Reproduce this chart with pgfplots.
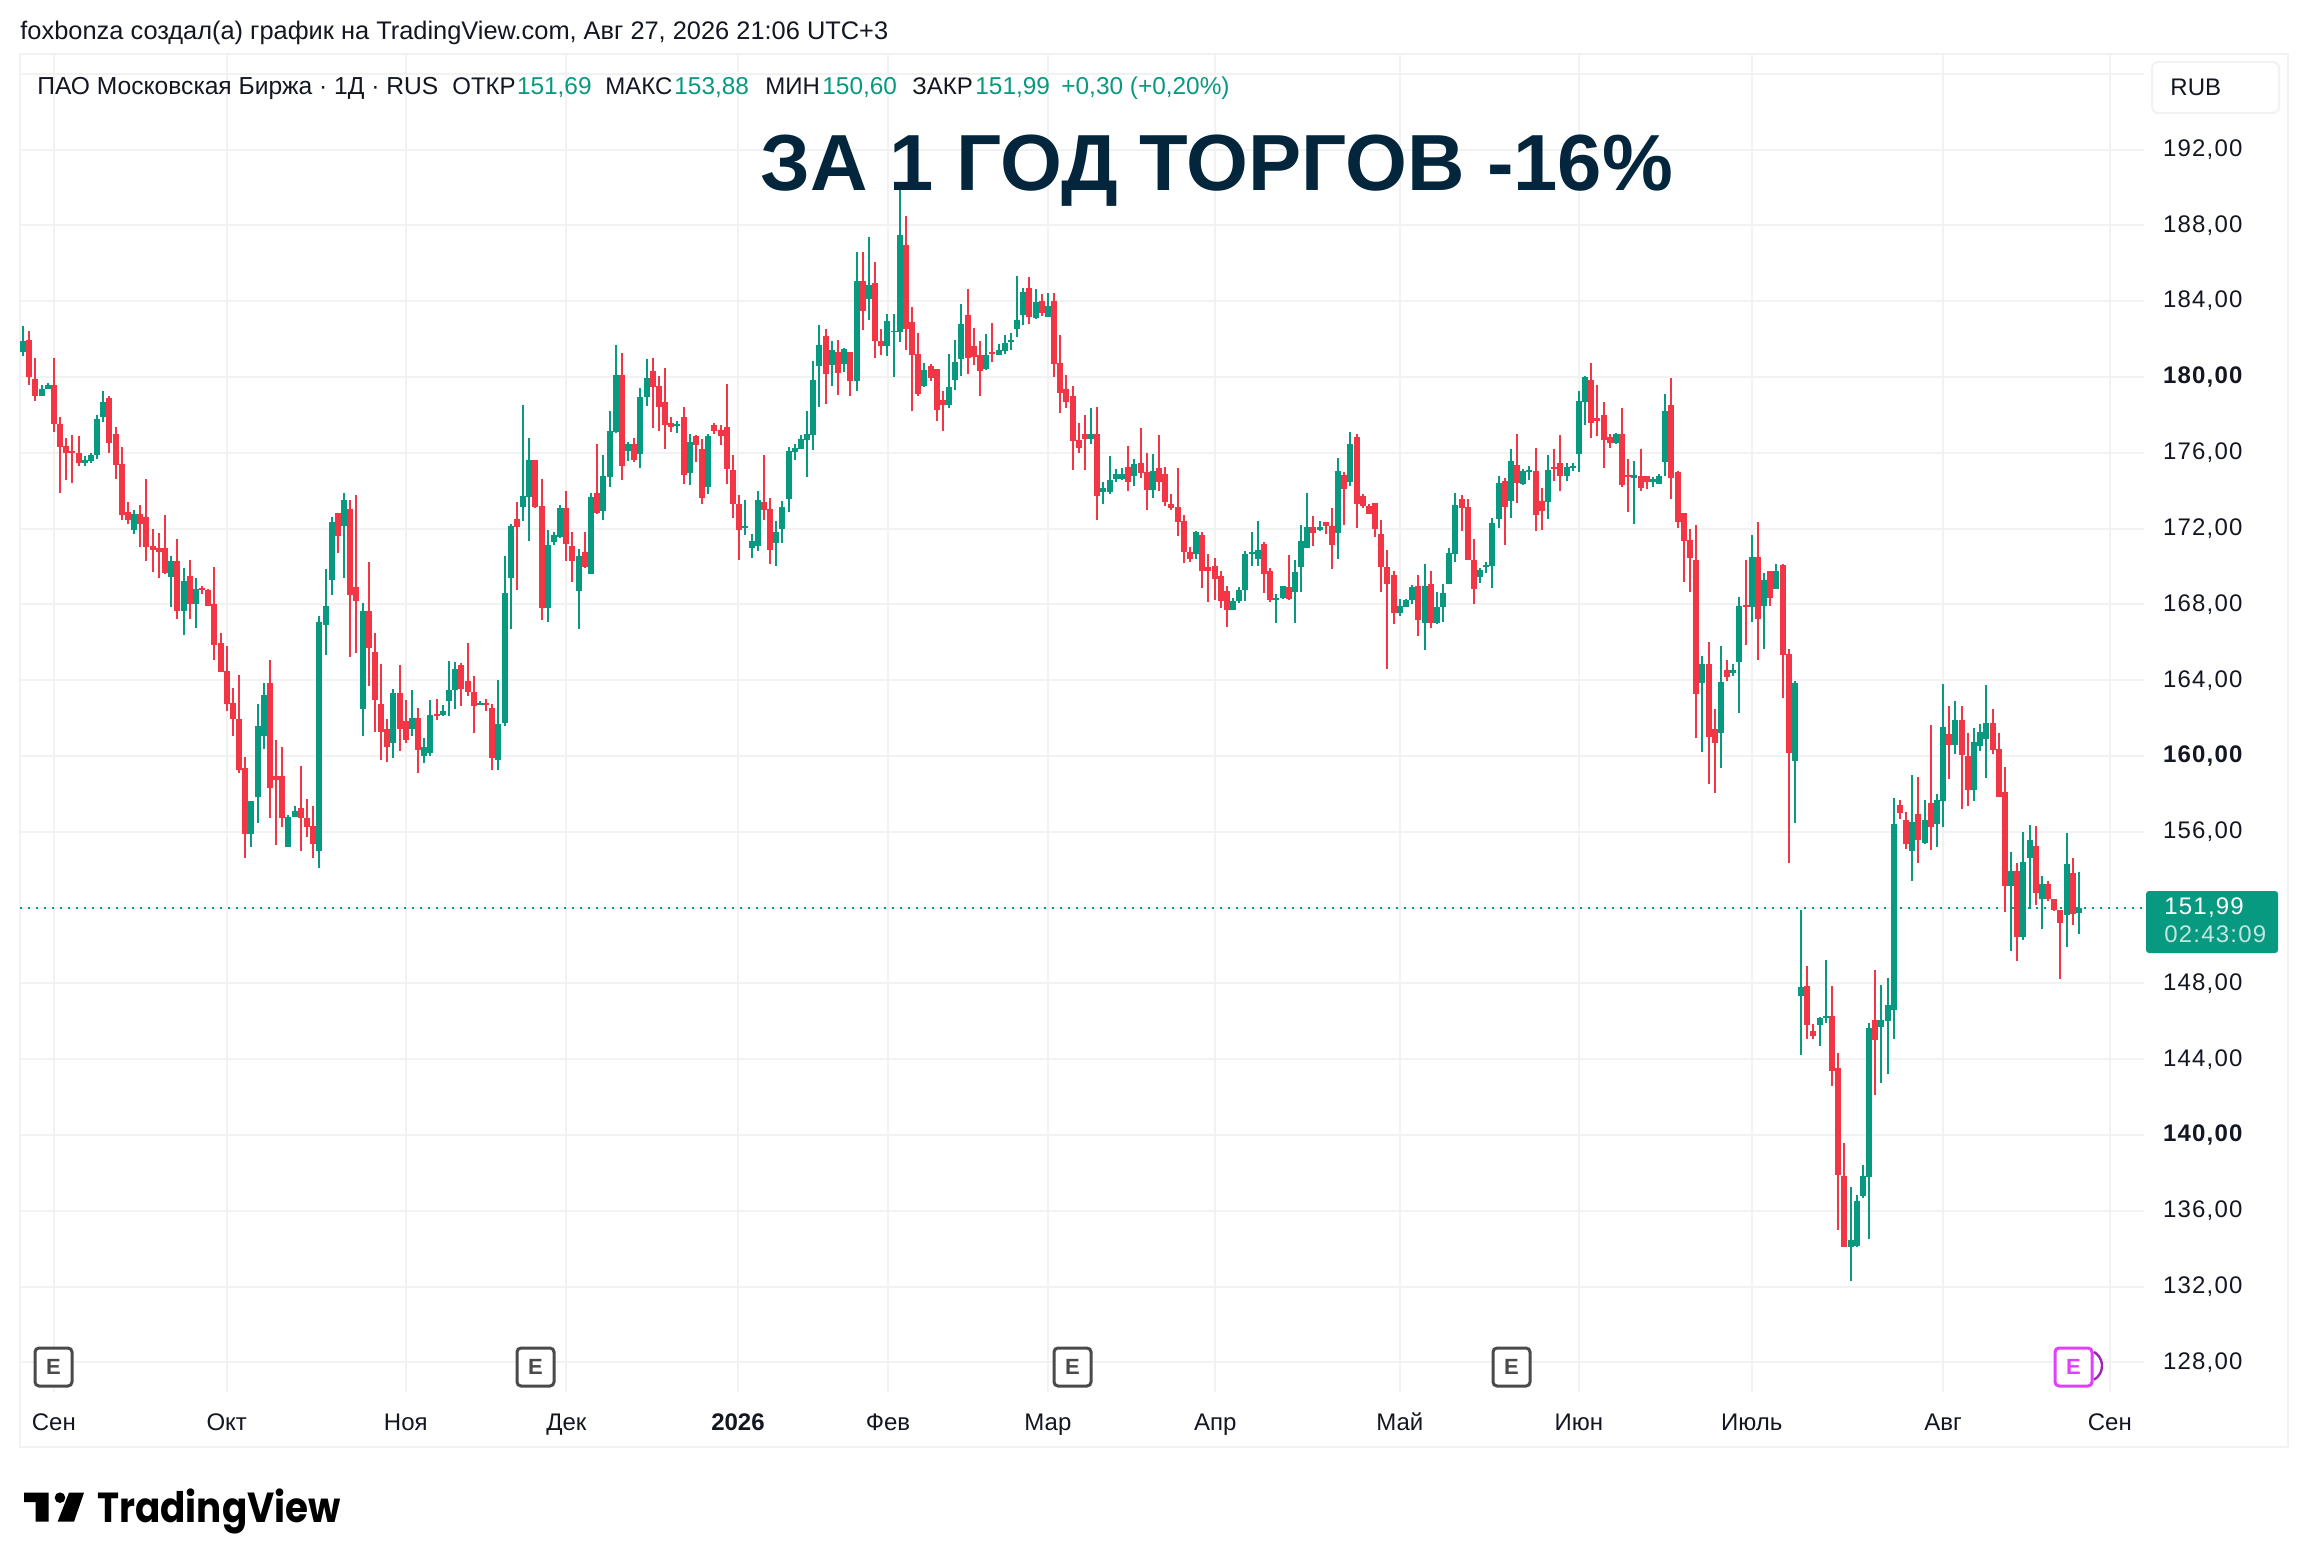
\documentclass[border=0pt]{standalone}
\usepackage{fontspec}
\usepackage{pgfplots}
\usepackage{pgfplotstable}
\pgfplotsset{compat=1.18}
\setmainfont{Liberation Sans}
\newfontfamily\poppins{Poppins}
\newfontfamily\tvwide[LetterSpace=5]{Liberation Sans}
\definecolor{tvup}{HTML}{089981}
\definecolor{tvdown}{HTML}{F23645}
\definecolor{tvgrid}{HTML}{F2F2F2}
\definecolor{tvtext}{HTML}{131722}
\definecolor{tvtitle}{HTML}{04263C}
\definecolor{tvE}{HTML}{4A4A4A}
\definecolor{tvpink}{HTML}{E040FB}
\definecolor{tvpurple}{HTML}{9C27B0}
\pgfplotstableread{
i o h l c
0 181.33 182.69 181.13 181.89
1 181.95 182.40 179.55 180.02
2 179.88 181.00 178.75 178.97
3 178.99 179.57 178.99 179.36
4 179.34 179.69 179.34 179.57
5 179.57 181.00 177.11 177.54
6 177.54 177.91 173.86 176.28
7 176.35 176.78 174.58 176.00
8 176.10 176.94 174.42 176.00
9 175.98 176.88 175.32 175.44
10 175.44 175.83 175.32 175.61
11 175.59 175.98 175.48 175.89
12 175.90 177.99 175.67 177.78
13 177.89 179.26 177.64 178.68
14 178.89 178.99 176.00 176.49
15 177.00 177.37 174.62 175.38
16 175.42 176.31 172.43 172.74
17 172.88 173.41 172.22 172.43
18 171.94 172.98 171.73 172.76
19 172.76 173.25 171.05 172.26
20 172.61 174.62 170.29 171.05
21 171.09 171.98 169.72 170.89
22 170.99 171.77 169.37 170.77
23 170.99 172.72 169.58 169.66
24 169.47 170.56 167.87 170.29
25 170.29 171.46 167.24 167.63
26 167.63 169.92 166.36 169.23
27 169.51 170.34 167.24 168.02
28 168.02 169.39 166.74 168.82
29 168.88 168.98 168.57 168.78
30 168.76 168.82 167.89 167.89
31 168.02 169.97 165.04 165.88
32 165.97 166.50 164.45 164.45
33 164.49 165.82 162.40 162.77
34 162.81 163.59 161.08 161.94
35 161.96 164.28 159.09 159.26
36 159.38 159.97 154.64 155.87
37 155.87 157.64 155.19 157.64
38 157.86 162.76 156.49 161.58
39 161.04 163.87 160.39 163.22
40 163.87 165.08 156.71 158.29
41 158.95 160.84 155.28 158.74
42 158.95 160.49 156.24 156.71
43 155.19 156.90 155.19 156.78
44 156.78 157.37 156.78 157.12
45 157.27 159.48 155.01 156.71
46 156.75 157.74 155.75 156.28
47 156.32 157.37 154.60 155.34
48 154.97 167.40 154.11 167.07
49 166.93 169.88 165.31 167.93
50 169.31 172.61 168.51 172.35
51 172.82 172.82 170.73 171.63
52 172.16 173.88 169.41 173.51
53 173.04 173.51 165.25 168.51
54 168.92 173.78 165.41 168.16
55 162.50 168.08 161.04 167.65
56 167.65 170.25 163.67 165.72
57 165.49 166.50 161.29 162.93
58 162.76 164.86 159.77 161.29
59 161.43 161.96 159.71 160.45
60 160.67 163.54 159.87 163.34
61 163.34 164.80 160.24 161.41
62 161.86 162.97 160.71 160.86
63 161.41 163.50 161.08 162.01
64 162.01 162.54 159.09 160.30
65 160.02 160.96 159.61 160.49
66 160.18 162.97 160.02 162.17
67 162.23 163.01 161.88 162.11
68 162.17 162.70 162.09 162.38
69 162.91 165.02 162.09 163.50
70 163.46 164.96 162.46 164.59
71 164.80 164.92 162.66 163.52
72 163.96 165.97 163.15 163.36
73 163.38 164.24 161.23 162.66
74 162.70 162.91 162.70 162.81
75 162.81 163.01 162.40 162.72
76 162.54 162.76 159.24 159.91
77 159.77 164.02 159.24 161.70
78 161.76 170.56 161.60 168.61
79 169.41 172.24 166.68 172.14
80 172.51 173.41 168.78 172.06
81 173.13 178.52 172.41 173.72
82 173.68 176.78 171.32 175.61
83 175.61 175.61 173.11 173.13
84 173.19 174.62 167.20 167.83
85 167.83 171.92 167.09 171.14
86 171.30 171.83 171.16 171.67
87 171.57 173.25 171.48 173.10
88 173.10 173.99 170.31 171.16
89 171.09 171.83 169.19 170.27
90 168.73 170.93 166.68 170.56
91 170.77 171.83 169.90 169.97
92 169.62 173.88 169.62 173.66
93 173.88 176.47 172.78 172.84
94 172.94 175.89 172.47 174.77
95 174.73 178.21 174.17 177.15
96 177.11 181.68 177.02 180.10
97 180.10 181.27 174.54 175.32
98 176.12 176.57 175.59 176.47
99 176.47 176.78 175.53 175.63
100 175.96 179.42 175.22 178.95
101 178.95 180.94 178.48 179.94
102 180.31 181.00 177.33 179.49
103 179.51 180.04 177.16 178.42
104 178.67 180.46 176.22 177.46
105 177.57 177.88 177.11 177.36
106 177.43 177.67 177.06 177.52
107 177.88 178.41 174.33 174.80
108 174.91 176.99 174.28 176.57
109 176.89 176.94 175.49 176.43
110 176.20 176.73 173.28 173.59
111 174.17 176.99 173.80 176.89
112 177.46 177.57 176.99 177.17
113 177.20 177.46 176.43 176.90
114 177.36 179.62 174.33 175.12
115 175.10 175.89 172.54 173.28
116 173.31 173.79 170.34 171.91
117 172.02 173.52 171.65 172.11
118 170.97 171.69 170.44 171.37
119 171.07 174.00 170.81 173.52
120 173.42 175.89 172.44 172.96
121 173.05 173.63 170.13 170.86
122 171.23 172.42 170.02 171.84
123 171.97 173.47 171.23 173.16
124 173.54 176.31 172.86 176.10
125 176.05 176.47 175.64 176.26
126 176.22 176.94 176.22 176.73
127 176.69 178.20 174.70 176.99
128 176.96 180.83 176.17 179.83
129 180.58 182.72 178.43 181.67
130 182.14 182.51 178.58 180.16
131 180.63 181.88 179.53 181.40
132 181.30 181.93 179.06 180.21
133 180.67 181.51 180.27 181.46
134 181.30 181.30 179.00 179.79
135 179.78 186.59 179.25 185.06
136 185.06 186.59 182.48 183.49
137 184.10 187.38 183.01 184.85
138 184.95 186.06 181.00 181.90
139 181.88 182.52 181.16 181.64
140 181.64 183.31 181.09 182.94
141 182.38 183.31 179.99 182.45
142 182.38 189.98 181.85 187.49
143 186.96 188.50 181.42 182.53
144 182.89 183.68 178.20 181.16
145 181.19 182.31 178.99 179.10
146 179.52 180.72 179.47 180.35
147 180.56 180.67 179.78 179.94
148 180.40 180.40 177.67 178.25
149 178.76 179.24 177.14 178.51
150 178.51 181.19 178.35 179.45
151 179.84 181.93 179.31 180.77
152 180.95 183.84 180.05 182.78
153 183.26 184.63 180.15 181.00
154 181.62 182.57 180.61 181.05
155 181.14 181.88 178.99 180.31
156 180.40 182.25 180.37 181.14
157 181.30 182.83 180.79 181.19
158 181.16 181.72 181.16 181.41
159 181.35 182.20 181.21 181.78
160 181.83 182.31 181.42 181.93
161 182.53 185.32 182.11 182.99
162 183.28 184.69 182.75 184.47
163 184.69 185.27 182.80 183.17
164 183.12 184.63 183.06 183.95
165 184.00 184.37 183.22 183.38
166 183.17 184.42 183.17 183.73
167 184.00 184.42 179.99 180.68
168 180.72 182.20 178.09 179.15
169 179.35 180.09 178.37 178.68
170 178.98 179.51 175.11 176.63
171 176.67 177.56 176.00 176.26
172 176.98 177.98 175.11 176.72
173 176.72 178.35 176.47 176.98
174 176.98 178.40 172.47 173.74
175 173.95 174.46 173.32 174.14
176 173.95 175.82 173.84 174.56
177 174.61 175.14 174.47 174.88
178 174.61 175.19 174.58 174.88
179 175.25 176.35 174.00 174.47
180 174.79 175.67 174.26 175.40
181 175.46 177.30 174.68 174.95
182 174.98 175.98 173.00 174.05
183 174.05 175.93 173.63 175.03
184 175.19 176.93 174.00 174.47
185 174.88 175.25 173.21 173.42
186 173.30 173.82 173.00 173.09
187 173.14 175.19 171.63 172.32
188 172.40 172.72 170.16 170.74
189 170.77 171.03 170.26 170.42
190 170.68 171.88 170.42 171.82
191 171.67 171.82 168.84 169.74
192 169.95 170.67 168.10 169.74
193 170.03 170.46 168.21 169.32
194 169.51 169.77 167.79 168.16
195 168.72 168.98 166.79 167.68
196 167.68 168.35 167.68 168.19
197 168.16 168.93 168.05 168.77
198 168.74 170.82 168.16 170.67
199 170.68 171.82 170.00 170.77
200 170.37 172.40 170.00 170.88
201 171.19 171.30 168.58 169.58
202 169.77 169.93 168.10 168.21
203 168.26 168.56 167.00 168.35
204 168.31 168.98 168.26 168.98
205 168.93 170.61 168.21 168.26
206 168.68 170.35 167.00 169.72
207 169.95 172.19 168.63 171.35
208 170.95 173.88 170.95 172.09
209 172.09 172.67 171.10 171.79
210 171.95 172.40 171.89 172.09
211 172.35 172.35 171.74 172.16
212 172.14 173.09 169.89 171.16
213 171.79 175.72 170.37 175.03
214 174.82 174.98 172.21 174.10
215 174.47 177.09 174.26 176.46
216 176.82 176.98 172.05 173.32
217 173.72 173.82 173.10 173.21
218 173.19 173.29 172.79 172.79
219 173.35 173.35 171.53 172.00
220 171.72 172.46 168.68 169.95
221 169.98 170.88 164.58 169.05
222 169.56 169.77 166.95 167.53
223 167.56 168.30 167.37 167.93
224 167.88 168.30 167.88 168.25
225 168.25 169.04 168.04 168.93
226 168.98 169.56 166.35 167.16
227 167.04 170.14 165.58 168.98
228 169.09 169.77 166.77 167.04
229 167.04 168.67 166.98 167.88
230 167.84 169.09 167.09 168.61
231 169.05 170.98 169.05 170.72
232 170.68 173.88 170.26 173.25
233 173.56 173.77 171.89 173.11
234 173.14 173.56 170.32 170.32
235 170.35 171.46 168.00 168.79
236 169.42 169.93 169.11 169.82
237 169.98 170.25 169.68 170.09
238 170.00 172.56 168.84 172.30
239 172.53 174.77 172.05 174.40
240 174.51 174.67 171.16 173.16
241 173.47 176.19 172.58 175.56
242 175.35 176.98 173.37 174.42
243 174.37 175.14 174.32 175.04
244 174.98 175.30 174.58 175.09
245 175.04 176.25 171.89 172.74
246 173.46 174.14 171.95 172.95
247 173.42 175.88 172.53 175.09
248 175.25 176.19 174.53 175.16
249 175.46 176.93 174.00 174.79
250 174.79 175.46 174.53 175.25
251 175.21 175.46 175.05 175.30
252 175.95 179.25 175.00 178.72
253 178.68 180.04 177.47 179.98
254 179.82 180.72 176.79 177.58
255 177.82 179.56 176.89 177.68
256 177.98 178.67 175.21 176.68
257 176.82 176.98 176.26 176.53
258 176.53 177.04 176.47 176.98
259 176.98 178.35 174.21 174.32
260 174.82 175.67 172.89 174.72
261 174.68 175.56 172.26 174.82
262 174.77 176.19 174.00 174.16
263 174.77 174.77 174.11 174.47
264 174.47 174.72 174.21 174.61
265 174.37 174.88 174.37 174.77
266 175.53 179.09 174.79 178.19
267 178.51 179.93 173.58 174.68
268 174.98 175.04 172.05 172.32
269 172.82 172.82 169.16 171.32
270 171.40 171.98 168.63 170.47
271 170.35 172.19 160.95 163.26
272 163.84 165.30 160.21 164.88
273 164.88 166.04 158.53 161.00
274 161.40 162.46 158.05 160.69
275 161.21 165.83 159.37 163.88
276 164.56 165.04 163.95 164.16
277 164.37 164.88 164.21 164.56
278 164.95 168.40 162.26 167.93
279 167.98 170.35 165.84 167.90
280 167.84 171.67 167.05 170.51
281 170.51 172.35 165.05 167.21
282 167.90 169.67 165.63 169.30
283 169.77 169.77 167.90 168.32
284 168.79 170.14 168.79 169.77
285 170.09 170.14 163.05 165.32
286 165.40 165.62 154.37 160.16
287 159.74 163.98 156.47 163.83
288 147.36 151.89 144.21 147.79
289 147.89 148.94 145.05 145.80
290 145.47 145.84 145.05 145.21
291 145.79 146.21 144.68 146.15
292 146.17 149.21 145.89 146.26
293 146.26 147.84 142.59 143.38
294 143.52 144.31 135.01 137.91
295 137.84 139.58 134.07 134.07
296 134.07 137.26 132.28 134.47
297 134.12 136.84 134.07 136.52
298 136.80 138.42 136.70 137.84
299 137.80 145.89 134.54 145.63
300 146.05 148.73 142.12 145.01
301 145.70 147.94 142.75 146.05
302 146.01 148.31 143.22 146.84
303 146.60 157.79 145.07 156.42
304 157.42 157.69 156.69 157.00
305 156.64 157.06 155.11 155.37
306 154.97 159.00 153.39 156.53
307 156.95 158.90 154.34 155.58
308 155.42 157.69 155.34 156.64
309 157.53 161.64 155.02 156.27
310 156.42 158.00 155.18 157.69
311 157.60 163.79 156.28 161.53
312 161.16 162.64 158.81 160.60
313 160.60 162.90 160.13 161.90
314 161.90 162.64 157.18 160.07
315 160.00 161.21 157.34 158.18
316 158.18 161.48 157.65 160.74
317 160.55 161.69 160.28 161.27
318 160.92 163.74 158.86 161.74
319 161.74 162.48 160.13 160.34
320 160.37 161.21 157.81 157.86
321 158.11 159.42 151.76 153.13
322 153.13 154.95 149.71 153.95
323 153.95 154.37 149.18 150.44
324 150.44 156.00 150.28 154.42
325 154.60 156.37 151.92 155.58
326 155.27 156.32 152.13 152.76
327 152.44 153.69 150.86 153.27
328 153.27 153.42 152.34 152.44
329 152.48 152.48 151.81 151.86
330 151.85 151.85 148.23 151.18
331 151.60 155.95 149.92 154.32
332 153.85 154.64 151.07 151.65
333 151.69 153.88 150.60 151.99
}\candles
\newcommand{\Ebox}[3]{%
  \draw[#3,line width=1.5pt,rounded corners=2pt,fill=white] (#1,1348) rectangle (#2,1386);
  \node[text=#3,font=\fontsize{11}{12}\selectfont\bfseries] at ({(#1+#2)/2},1367) {E};}
\begin{document}
\begin{tikzpicture}[x=0.5pt,y=-0.5pt]
\path[use as bounding box,fill=white] (0,0) rectangle (2308,1568);
\draw[tvgrid,line width=1pt] (20,54) rectangle (2288,1447);
\begin{axis}[
  at={(10pt,-696pt)},anchor=south west,
  scale only axis,width=1062pt,height=669pt,
  xmin=-0.486,xmax=343.54,ymin=126.44,ymax=197.04,
  axis line style={draw=none},
  tick style={draw=none},
  grid=major,
  grid style={tvgrid,line width=1pt},
  xtick={5,33,62,88,115.8,140.1,166,193.1,223,252,280,311,338},
  xticklabels={Сен,Окт,Ноя,Дек,\textbf{2026},Фев,Мар,Апр,Май,Июн,Июль,Авг,Сен},
  xticklabel style={font=\fontsize{12}{14}\selectfont,text=tvtext,anchor=base,yshift=-19pt},
  ytick={128,132,...,196},
  yticklabels={128{,}00,132{,}00,136{,}00,\textbf{140{,}00},144{,}00,148{,}00,{},156{,}00,\textbf{160{,}00},164{,}00,168{,}00,172{,}00,176{,}00,\textbf{180{,}00},184{,}00,188{,}00,192{,}00,{}},
  yticklabel pos=right,
  yticklabel style={font=\tvwide\fontsize{12}{14}\selectfont,text=tvtext,anchor=west,xshift=6pt},
  unbounded coords=discard,
  clip=true,
]
\addplot[tvup,line width=.8pt,dash pattern=on 1pt off 3pt] coordinates {(-0.486,151.99) (343.54,151.99)};
\addplot[draw=none,forget plot,error bars/.cd,y dir=both,y explicit,error mark=none,error bar style={line width=1pt,tvdown}]
  table[x=i,y expr={\thisrow{c}<\thisrow{o} ? (\thisrow{h}+\thisrow{l})/2 : nan},y error expr={(\thisrow{h}-\thisrow{l})/2}] {\candles};
\addplot[draw=none,forget plot,error bars/.cd,y dir=both,y explicit,error mark=none,error bar style={line width=1pt,tvup}]
  table[x=i,y expr={\thisrow{c}>=\thisrow{o} ? (\thisrow{h}+\thisrow{l})/2 : nan},y error expr={(\thisrow{h}-\thisrow{l})/2}] {\candles};
\addplot[draw=none,forget plot,error bars/.cd,y dir=both,y explicit,error mark=none,error bar style={line width=3pt,tvdown}]
  table[x=i,y expr={\thisrow{c}<\thisrow{o} ? (\thisrow{o}+\thisrow{c})/2 : nan},y error expr={abs(\thisrow{o}-\thisrow{c})/2}] {\candles};
\addplot[draw=none,forget plot,error bars/.cd,y dir=both,y explicit,error mark=none,error bar style={line width=3pt,tvup}]
  table[x=i,y expr={\thisrow{c}>=\thisrow{o} ? (\thisrow{o}+\thisrow{c})/2 : nan},y error expr={abs(\thisrow{o}-\thisrow{c})/2}] {\candles};
\end{axis}
% header
\node[anchor=base west,inner sep=0pt,text=tvtext,font=\fontsize{12.7}{14}\selectfont] at (20,40) {foxbonza создал(а) график на TradingView.com, Авг 27, 2026 21:06 UTC+3};
\node[anchor=base west,inner sep=0pt,text=tvtext,font=\fontsize{12.3}{14}\selectfont] at (37,95) {ПАО Московская Биржа · 1Д · RUS};
\foreach \x/\t in {452/ОТКР,605/МАКС,765/МИН,912/ЗАКР}
  \node[anchor=base west,inner sep=0pt,text=tvtext,font=\fontsize{12}{14}\selectfont] at (\x,95) {\t};
\foreach \x/\t in {516.6/151{,}69,674/153{,}88,822/150{,}60,975/151{,}99,1061/+0{,}30 (+0{,}20\%)}
  \node[anchor=base west,inner sep=0pt,text=tvup,font=\fontsize{12.2}{14}\selectfont] at (\x,95) {\t};
\node[anchor=base west,inner sep=0pt,text=tvtitle,font=\fontsize{39.8}{42}\selectfont\bfseries] at (760,190.7) {ЗА 1 ГОД ТОРГОВ -16\%};
% RUB box
\draw[tvgrid,line width=1pt,rounded corners=3pt,fill=white] (2152,62) rectangle (2279,113);
\node[anchor=base west,inner sep=0pt,text=tvtext,font=\fontsize{12}{14}\selectfont] at (2170,96) {RUB};
% price tag
\fill[tvup,rounded corners=1.5pt] (2146,891) rectangle (2278,953);
\node[anchor=base west,inner sep=0pt,text=white,font=\tvwide\fontsize{12}{14}\selectfont] at (2164,914) {151,99};
\node[anchor=base west,inner sep=0pt,text=white!75!tvup,font=\tvwide\fontsize{12}{14}\selectfont] at (2164,942) {02:43:09};
% earnings markers
\Ebox{35}{72}{tvE}
\Ebox{517}{554}{tvE}
\Ebox{1054}{1091}{tvE}
\Ebox{1493}{1530}{tvE}
\Ebox{2055}{2092}{tvpink}
\draw[tvpurple,line width=1.2pt] (2094,1352) arc[start angle=-60,end angle=60,radius=16];
% logo
\fill[black] (24,1492.7) -- (48.5,1492.7) -- (48.5,1521.7) -- (35.7,1521.7) -- (35.7,1502) -- (24,1502) -- cycle;
\fill[black] (60,1497.7) circle[radius=5.3];
\fill[black] (69,1492.7) -- (84,1492.7) -- (74,1521.7) -- (57.6,1521.7) -- cycle;
\node[anchor=base west,inner sep=0pt,text=black,font=\poppins\fontsize{21}{24}\selectfont\bfseries] at (97,1522) {\scalebox{.887}[1]{TradingView}};
\end{tikzpicture}
\end{document}
